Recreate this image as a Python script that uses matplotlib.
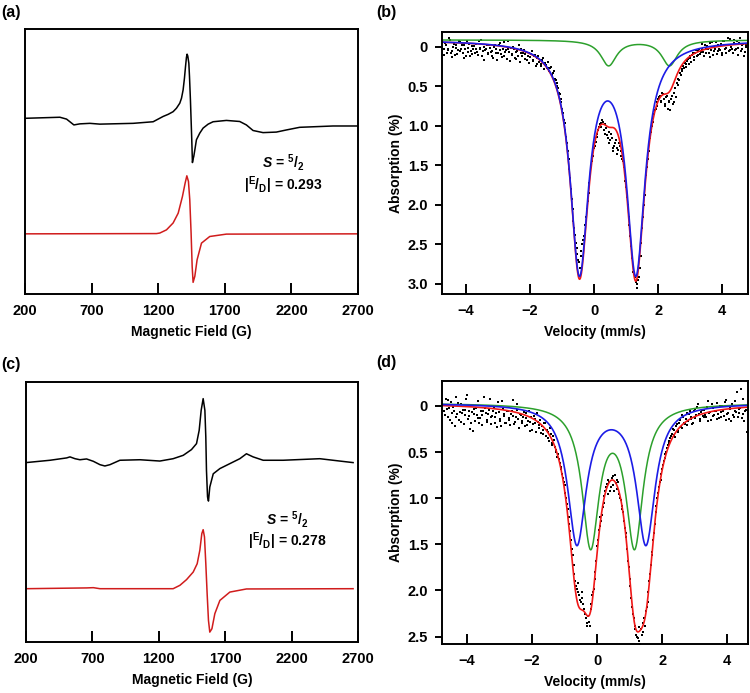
import numpy as np
import matplotlib
matplotlib.use("Agg")
import matplotlib.pyplot as plt

plt.rcParams['font.family'] = ['Liberation Sans', 'DejaVu Sans']
plt.rcParams['font.weight'] = 'bold'
plt.rcParams['axes.labelweight'] = 'bold'
plt.rcParams['mathtext.fontset'] = 'custom'
plt.rcParams['mathtext.rm'] = 'Liberation Sans:bold'
plt.rcParams['mathtext.it'] = 'Liberation Sans:italic:bold'
plt.rcParams['mathtext.bf'] = 'Liberation Sans:bold'

# ---- EPR (a): experiment (black) and simulation (red), arbitrary units 0-100
epr_a_field = [200, 462, 512, 567, 612, 687, 762, 1012, 1162, 1237, 1275, 1312, 1337,
               1362, 1375, 1387, 1397, 1405, 1412, 1417, 1422, 1430, 1435, 1442, 1447,
               1452, 1457, 1462, 1467, 1477, 1487, 1512, 1537, 1575, 1612, 1712, 1812,
               1862, 1912, 1987, 2087, 2162, 2262, 2412, 2512, 2700]
epr_a_exp = [66.3, 66.7, 66.0, 63.8, 64.2, 64.4, 64.1, 64.4, 65.0, 67.0, 67.8, 68.8, 70.1,
             72.0, 73.9, 77.0, 81.4, 85.8, 89.3, 90.5, 89.8, 87.1, 82.0, 73.2, 65.7,
             58.2, 49.6, 50.9, 51.9, 55.0, 58.2, 60.7, 62.6, 64.1, 65.0, 65.5, 65.1,
             63.8, 61.7, 60.9, 61.1, 61.9, 62.9, 63.2, 63.4, 63.4]
epr_a_sim_field = [200, 1187, 1212, 1262, 1312, 1350, 1382, 1402, 1415, 1427, 1437, 1447,
                   1455, 1462, 1475, 1492, 1525, 1587, 1712, 2700]
epr_a_sim = [22.7, 22.8, 23.0, 24.2, 26.8, 30.5, 36.8, 41.8, 44.6, 42.5, 35.6, 23.0,
             10.4, 4.4, 6.7, 12.9, 19.2, 21.7, 22.6, 22.7]

# ---- EPR (c)
epr_c_field = [200, 381, 506, 531, 569, 606, 656, 707, 757, 794, 832, 907, 1058, 1208,
               1308, 1384, 1446, 1484, 1504, 1519, 1534, 1547, 1554, 1559, 1567, 1574,
               1584, 1610, 1660, 1735, 1810, 1860, 1910, 1986, 2136, 2412, 2562, 2663]
epr_c_exp = [69.0, 69.9, 70.8, 71.2, 70.5, 70.1, 70.4, 69.5, 68.2, 67.7, 68.2, 69.9, 70.1,
             69.6, 70.5, 71.8, 74.0, 76.3, 81.4, 89.1, 93.6, 89.1, 78.8, 66.0, 55.8, 54.2,
             59.6, 64.7, 66.7, 68.6, 70.5, 72.4, 71.2, 69.9, 69.9, 70.5, 69.6, 69.0]
epr_c_sim_field = [200, 657, 707, 757, 1308, 1359, 1409, 1459, 1489, 1509, 1524, 1534,
                   1544, 1554, 1564, 1574, 1584, 1600, 1622, 1660, 1735, 1860, 2663]
epr_c_sim = [20.5, 20.8, 20.9, 20.5, 20.5, 21.8, 24.0, 26.9, 30.1, 35.3, 41.7, 43.2,
             40.4, 30.1, 18.6, 8.3, 3.8, 5.1, 10.9, 16.0, 19.2, 20.4, 20.5]

# ---- Mossbauer (b): two interleaved sweeps, 0.05 mm/s channels
moss_b_vel = np.linspace(-4.70, 4.75, 190)
moss_b_abs = [
    0.02, -0.05, 0.08, 0.03, -0.09, 0.05, 0.00, 0.10, -0.03, 0.04,
    -0.06, 0.02, 0.07, -0.02, 0.11, 0.01, -0.04, 0.05, 0.09, -0.01,
    0.03, 0.06, -0.07, 0.02, 0.12, 0.00, 0.04, -0.03, 0.08, 0.01,
    0.05, 0.14, -0.02, 0.03, 0.07, -0.05, 0.09, 0.02, 0.11, 0.04,
    -0.08, 0.06, 0.01, 0.10, 0.03, 0.15, 0.05, -0.02, 0.08, 0.12,
    0.04, 0.09, 0.16, 0.07, 0.13, 0.05, 0.18, 0.10, 0.21, 0.12,
    0.17, 0.24, 0.14, 0.20, 0.23, 0.19, 0.27, 0.25, 0.33, 0.30,
    0.42, 0.50, 0.58, 0.66, 0.78, 0.92, 1.05, 1.22, 1.42, 1.66,
    1.92, 2.20, 2.38, 2.62, 2.70, 2.80, 2.58, 2.45, 2.38, 2.15,
    1.95, 1.72, 1.50, 1.38, 1.28, 1.20, 1.10, 1.02, 0.96, 0.93,
    1.05, 0.98, 1.12, 1.08, 1.18, 1.15, 1.28, 1.22, 1.35, 1.30,
    1.25, 1.38, 1.45, 1.60, 1.78, 2.00, 2.25, 2.52, 2.78, 2.88,
    2.98, 3.05, 2.92, 2.65, 2.30, 2.00, 1.75, 1.52, 1.32, 1.15,
    1.00, 0.90, 0.80, 0.75, 0.66, 0.62, 0.68, 0.60, 0.72, 0.64,
    0.78, 0.70, 0.66, 0.72, 0.58, 0.64, 0.48, 0.42, 0.36, 0.30,
    0.26, 0.22, 0.18, 0.21, 0.14, 0.10, 0.16, 0.07, 0.12, 0.05,
    0.09, 0.02, 0.06, -0.02, 0.08, 0.03, -0.05, 0.04, 0.10, 0.00,
    -0.06, 0.05, 0.02, -0.04, 0.07, -0.08, 0.01, -0.03, 0.05, -0.10,
    0.02, -0.05, 0.04, -0.07, 0.01, -0.12, 0.03, -0.04, 0.06, -0.02]
moss_b_vel2 = np.linspace(-4.675, 4.725, 189)
moss_b_abs2 = [
    0.10, -0.02, 0.04, -0.11, 0.07, 0.13, -0.04, 0.01, 0.09, -0.07,
    0.05, -0.03, 0.14, 0.02, -0.08, 0.06, 0.12, -0.01, 0.03, 0.08,
    -0.04, 0.10, 0.01, -0.09, 0.05, 0.16, 0.03, 0.09, -0.02, 0.06,
    0.12, 0.00, 0.07, 0.17, -0.03, 0.04, 0.13, -0.06, 0.06, 0.15,
    0.03, 0.18, 0.09, 0.00, 0.14, 0.06, 0.11, 0.19, 0.02, 0.07,
    0.15, 0.06, 0.11, 0.20, 0.09, 0.17, 0.12, 0.24, 0.14, 0.19,
    0.22, 0.16, 0.28, 0.21, 0.26, 0.31, 0.27, 0.36, 0.33, 0.40,
    0.46, 0.52, 0.60, 0.70, 0.84, 0.96, 1.14, 1.32, 1.55, 1.80,
    2.05, 2.30, 2.48, 2.55, 2.72, 2.65, 2.50, 2.40, 2.25, 2.05,
    1.85, 1.62, 1.45, 1.32, 1.25, 1.14, 1.05, 0.98, 1.02, 0.95,
    1.10, 1.03, 1.15, 1.22, 1.10, 1.32, 1.25, 1.18, 1.28, 1.22,
    1.32, 1.42, 1.52, 1.70, 1.90, 2.15, 2.40, 2.68, 2.85, 2.92,
    3.00, 2.95, 2.80, 2.48, 2.15, 1.88, 1.62, 1.42, 1.22, 1.08,
    0.95, 0.85, 0.78, 0.70, 0.64, 0.70, 0.58, 0.66, 0.75, 0.62,
    0.68, 0.80, 0.62, 0.70, 0.52, 0.46, 0.40, 0.33, 0.28, 0.24,
    0.20, 0.25, 0.15, 0.12, 0.19, 0.08, 0.13, 0.04, 0.10, 0.02,
    0.06, -0.04, 0.11, 0.03, -0.01, 0.07, 0.13, -0.06, 0.05, 0.02,
    0.09, -0.03, 0.04, 0.10, -0.07, 0.03, 0.08, -0.12, 0.04, 0.00,
    0.07, -0.09, 0.03, 0.10, -0.05, 0.05, -0.03, 0.12, 0.00]
# fit parameters: baseline, line centres, depth, half width
moss_b_base = -0.09
moss_b_blue_centers = [-0.46, 1.30]
moss_b_blue_depth = 2.89
moss_b_blue_hwhm = 0.346
moss_b_green_centers = [0.45, 2.35]
moss_b_green_depth = 0.322
moss_b_green_hwhm = 0.30

# ---- Mossbauer (d)
moss_d_vel = np.linspace(-4.70, 4.60, 187)
moss_d_abs = [
    0.05, -0.08, 0.12, 0.02, -0.04, 0.18, 0.06, -0.10, 0.09, 0.15,
    -0.02, 0.08, 0.20, 0.04, -0.12, 0.11, 0.25, 0.07, 0.03, 0.16,
    0.10, -0.05, 0.13, 0.21, 0.06, 0.02, 0.17, 0.09, -0.07, 0.12,
    0.05, 0.19, 0.08, -0.04, 0.14, 0.22, 0.03, 0.11, 0.18, 0.06,
    0.15, 0.09, -0.06, 0.20, 0.12, 0.04, 0.24, 0.10, 0.16, 0.07,
    0.13, 0.21, 0.05, 0.17, 0.26, 0.11, 0.19, 0.08, 0.24, 0.15,
    0.22, 0.30, 0.18, 0.26, 0.35, 0.24, 0.40, 0.33, 0.45, 0.48,
    0.52, 0.62, 0.66, 0.78, 0.86, 1.00, 1.12, 1.28, 1.45, 1.62,
    1.82, 1.95, 1.92, 2.05, 2.12, 2.08, 2.20, 2.30, 2.38, 2.34,
    2.20, 2.05, 1.98, 1.80, 1.52, 1.35, 1.20, 1.18, 1.05, 0.92,
    0.85, 0.80, 0.92, 0.78, 0.86, 0.75, 0.90, 0.82, 1.00, 1.08,
    1.15, 1.32, 1.42, 1.68, 1.88, 2.08, 2.25, 2.38, 2.48, 2.52,
    2.55, 2.42, 2.45, 2.30, 2.22, 2.12, 1.90, 1.72, 1.58, 1.38,
    1.15, 1.00, 0.88, 0.80, 0.68, 0.60, 0.52, 0.46, 0.40, 0.35,
    0.30, 0.26, 0.34, 0.20, 0.28, 0.15, 0.24, 0.12, 0.20, 0.08,
    0.16, 0.05, 0.12, 0.18, 0.03, 0.10, -0.02, 0.14, 0.07, 0.11,
    0.04, 0.12, -0.05, 0.08, 0.15, 0.02, 0.10, 0.06, -0.03, 0.13,
    0.07, 0.00, 0.11, -0.06, 0.09, 0.14, 0.03, -0.02, 0.12, 0.05,
    -0.15, 0.08, 0.02, 0.13, -0.08, 0.06, 0.28]
moss_d_vel2 = np.linspace(-4.675, 4.575, 186)
moss_d_abs2 = [
    0.10, 0.03, -0.06, 0.15, 0.08, 0.01, 0.22, 0.12, -0.03, 0.07,
    0.17, 0.04, 0.10, -0.08, 0.14, 0.06, 0.19, 0.27, 0.09, 0.02,
    0.13, 0.18, 0.05, 0.10, -0.10, 0.08, 0.15, 0.04, 0.20, 0.11,
    0.02, 0.12, 0.23, 0.07, 0.16, -0.05, 0.09, 0.19, 0.05, 0.13,
    0.21, 0.06, 0.11, 0.17, -0.02, 0.14, 0.09, 0.18, 0.12, 0.22,
    0.08, 0.16, 0.27, 0.12, 0.20, 0.14, 0.28, 0.17, 0.21, 0.29,
    0.26, 0.19, 0.33, 0.28, 0.38, 0.30, 0.42, 0.37, 0.50, 0.55,
    0.58, 0.68, 0.74, 0.82, 0.94, 1.06, 1.20, 1.36, 1.55, 1.72,
    1.90, 1.98, 2.02, 2.10, 2.02, 2.15, 2.25, 2.35, 2.28, 2.38,
    2.15, 2.02, 1.88, 1.68, 1.45, 1.30, 1.25, 1.10, 0.98, 0.88,
    0.95, 0.82, 0.88, 0.76, 0.92, 0.84, 0.80, 0.95, 1.02, 1.12,
    1.25, 1.38, 1.55, 1.75, 1.95, 2.18, 2.30, 2.42, 2.50, 2.40,
    2.58, 2.48, 2.35, 2.38, 2.18, 2.02, 1.82, 1.62, 1.45, 1.28,
    1.08, 0.94, 0.82, 0.74, 0.64, 0.56, 0.50, 0.42, 0.38, 0.33,
    0.25, 0.32, 0.22, 0.27, 0.18, 0.23, 0.10, 0.19, 0.14, 0.21,
    0.09, 0.14, 0.20, 0.06, 0.13, 0.01, 0.09, 0.16, 0.04, 0.12,
    0.10, 0.01, 0.16, 0.07, -0.02, 0.11, 0.05, 0.14, 0.09, 0.00,
    0.12, 0.05, -0.04, 0.15, 0.08, 0.02, 0.16, 0.10, -0.05, 0.07,
    0.12, 0.03, -0.18, 0.09, 0.16, 0.04]
moss_d_base = -0.03
moss_d_blue_centers = [-0.62, 1.50]
moss_d_blue_depth = 1.506
moss_d_blue_hwhm = 0.345
moss_d_green_centers = [-0.20, 1.15]
moss_d_green_depth = 1.511
moss_d_green_hwhm = 0.316

EPR_RED = '#d01c1c'
FIT_RED = '#f01818'
FIT_BLUE = '#1c1ce6'
FIT_GREEN = '#2ca02c'
FS = 10.5


def doublet(v, centers, depth, hwhm):
    return sum(depth * hwhm ** 2 / (hwhm ** 2 + (v - c) ** 2) for c in centers)


def style_spines(ax):
    for s in ax.spines.values():
        s.set_linewidth(1.4)


def draw_epr(ax, field, exp, sim_field, sim, ed_text, tx, ty1, ty2):
    ax.plot(field, exp, color='black', lw=1.1)
    ax.plot(sim_field, sim, color=EPR_RED, lw=1.1)
    ax.set_xlim(200, 2700)
    ax.set_ylim(0, 100)
    ax.set_xticks([200, 700, 1200, 1700, 2200, 2700])
    ax.set_yticks([])
    ax.tick_params(axis='x', direction='in', length=8, width=1.4, pad=7, labelsize=FS)
    ax.set_xlabel('Magnetic Field (G)', fontsize=10, labelpad=5)
    ax.text(tx, ty1, r'$S$ = $^5/_2$', transform=ax.transAxes, ha='center', va='center',
            fontsize=10, fontweight='bold')
    ax.text(tx, ty2, r'|$^\mathrm{E}/_\mathrm{D}$| = ' + ed_text, transform=ax.transAxes,
            ha='center', va='center', fontsize=10, fontweight='bold')
    style_spines(ax)


def draw_moss(ax, sweeps, base, bc, bd, bw, gc, gd, gw, xlim, ylim, yticks, ylabels):
    v = np.linspace(xlim[0], xlim[1], 800)
    blue = base + doublet(v, bc, bd, bw)
    green = base + doublet(v, gc, gd, gw)
    total = base + doublet(v, bc, bd, bw) + doublet(v, gc, gd, gw)
    for vel, absn in sweeps:
        ax.plot(vel, absn, 's', color='black', ms=1.5, mew=0)
    ax.plot(v, green, color=FIT_GREEN, lw=1.1)
    ax.plot(v, total, color=FIT_RED, lw=1.2)
    ax.plot(v, blue, color=FIT_BLUE, lw=1.2)
    ax.set_xlim(*xlim)
    ax.set_ylim(ylim[1], ylim[0])
    ax.set_xticks([-4, -2, 0, 2, 4])
    ax.set_yticks(yticks)
    ax.set_yticklabels(ylabels)
    ax.tick_params(axis='x', direction='in', length=7, width=1.4, pad=7, labelsize=FS)
    ax.tick_params(axis='y', direction='out', length=5, width=1.4, pad=5, labelsize=FS)
    ax.set_xlabel('Velocity (mm/s)', fontsize=10, labelpad=5)
    ax.set_ylabel('Absorption (%)', fontsize=10, labelpad=3)
    style_spines(ax)


fig = plt.figure(figsize=(7.5, 6.93), dpi=100)
W, H = 750.0, 693.0
ax_a = fig.add_axes([25 / W, (H - 294) / H, 333 / W, 265 / H])
ax_b = fig.add_axes([442 / W, (H - 294) / H, 306 / W, 262 / H])
ax_c = fig.add_axes([26 / W, (H - 642) / H, 332 / W, 260 / H])
ax_d = fig.add_axes([442 / W, (H - 644) / H, 306 / W, 263 / H])

draw_epr(ax_a, epr_a_field, epr_a_exp, epr_a_sim_field, epr_a_sim, '0.293', 0.775, 0.495, 0.41)
draw_epr(ax_c, epr_c_field, epr_c_exp, epr_c_sim_field, epr_c_sim, '0.278', 0.786, 0.472, 0.387)

draw_moss(ax_b, [(moss_b_vel, moss_b_abs), (moss_b_vel2, moss_b_abs2)], moss_b_base,
          moss_b_blue_centers, moss_b_blue_depth, moss_b_blue_hwhm,
          moss_b_green_centers, moss_b_green_depth, moss_b_green_hwhm,
          (-4.75, 4.8), (-0.19, 3.13), [0, 0.5, 1.0, 1.5, 2.0, 2.5, 3.0],
          ['0', '0.5', '1.0', '1.5', '2.0', '2.5', '3.0'])
draw_moss(ax_d, [(moss_d_vel, moss_d_abs), (moss_d_vel2, moss_d_abs2)], moss_d_base,
          moss_d_blue_centers, moss_d_blue_depth, moss_d_blue_hwhm,
          moss_d_green_centers, moss_d_green_depth, moss_d_green_hwhm,
          (-4.77, 4.64), (-0.27, 2.58), [0, 0.5, 1.0, 1.5, 2.0, 2.5],
          ['0', '0.5', '1.0', '1.5', '2.0', '2.5'])

for label, x, y in [('(a)', 1, 12), ('(b)', 376, 12), ('(c)', 1, 365), ('(d)', 376, 363)]:
    fig.text(x / W, 1 - y / H, label, fontsize=11.5, fontweight='bold', ha='left', va='center')

fig.savefig('out.png', dpi=100)
